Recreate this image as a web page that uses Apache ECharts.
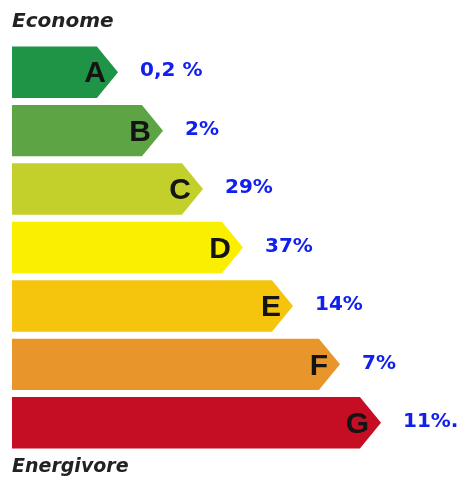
<!DOCTYPE html>
<html>
<head>
<meta charset="utf-8">
<script src="https://cdn.jsdelivr.net/npm/echarts@6/dist/echarts.min.js"></script>
<style>
  html, body { margin: 0; padding: 0; background: #fff; }
  #chart { width: 457px; height: 483px; }
</style>
</head>
<body>
<div id="chart"></div>
<script>
// classes énergétiques
const categories = ['A', 'B', 'C', 'D', 'E', 'F', 'G'];
// part de chaque classe (%)
const percentValues = [0.2, 2, 29, 37, 14, 7, 11];
const percentLabels = ['0,2 %', '2%', '29%', '37%', '14%', '7%', '11%.'];
// longueur de la flèche (échelle de l'étiquette énergie)
const arrowLengths = [106, 151, 191, 231, 281, 328, 369];
const colors = ['#1f9447', '#5ca444', '#c3d02c', '#fbef00', '#f4c50c', '#e8952c', '#c50d24'];

const chart = echarts.init(document.getElementById('chart'));

const renderArrow = (params, api) => {
  const idx = api.value(0);
  const len = api.value(1);
  const start = api.coord([0, idx]);
  const end = api.coord([len, idx]);
  const h = api.size([0, 1])[1] * 0.88;
  const tip = h * 0.41;
  const y = start[1];
  return {
    type: 'group',
    children: [
      {
        type: 'polygon',
        shape: {
          points: [
            [start[0], y - h / 2],
            [end[0] - tip, y - h / 2],
            [end[0], y],
            [end[0] - tip, y + h / 2],
            [start[0], y + h / 2]
          ]
        },
        style: { fill: colors[idx] }
      },
      {
        type: 'text',
        style: {
          text: categories[idx],
          x: end[0] - 12,
          y: y + 2,
          align: 'right',
          verticalAlign: 'middle',
          fontFamily: '"Liberation Sans", Arial, sans-serif',
          fontWeight: 'bold',
          fontSize: 30,
          fill: '#141414'
        }
      },
      {
        type: 'text',
        style: {
          text: percentLabels[idx],
          x: end[0] + 22,
          y: y - 1,
          align: 'left',
          verticalAlign: 'middle',
          fontFamily: '"DejaVu Sans", sans-serif',
          fontWeight: 'bold',
          fontSize: 20,
          fill: '#1020ee'
        }
      }
    ]
  };
};

const option = {
  animation: false,
  backgroundColor: '#fff',
  grid: { left: 12, right: 0, top: 43, bottom: 31 },
  xAxis: { type: 'value', min: 0, max: 445, show: false },
  yAxis: { type: 'category', data: categories, inverse: true, show: false },
  graphic: [
    {
      type: 'text',
      left: 12,
      top: 12,
      style: {
        text: 'Econome',
        fontFamily: '"DejaVu Sans", sans-serif',
        fontStyle: 'italic',
        fontWeight: 'bold',
        fontSize: 20,
        fill: '#222'
      }
    },
    {
      type: 'text',
      left: 12,
      top: 458,
      style: {
        text: 'Energivore',
        fontFamily: '"DejaVu Sans", sans-serif',
        fontStyle: 'italic',
        fontWeight: 'bold',
        fontSize: 19,
        fill: '#222'
      }
    }
  ],
  series: [
    {
      type: 'custom',
      renderItem: renderArrow,
      encode: { x: 1, y: 0 },
      data: categories.map((c, i) => [i, arrowLengths[i], percentValues[i]])
    }
  ]
};

chart.setOption(option);
</script>
</body>
</html>
